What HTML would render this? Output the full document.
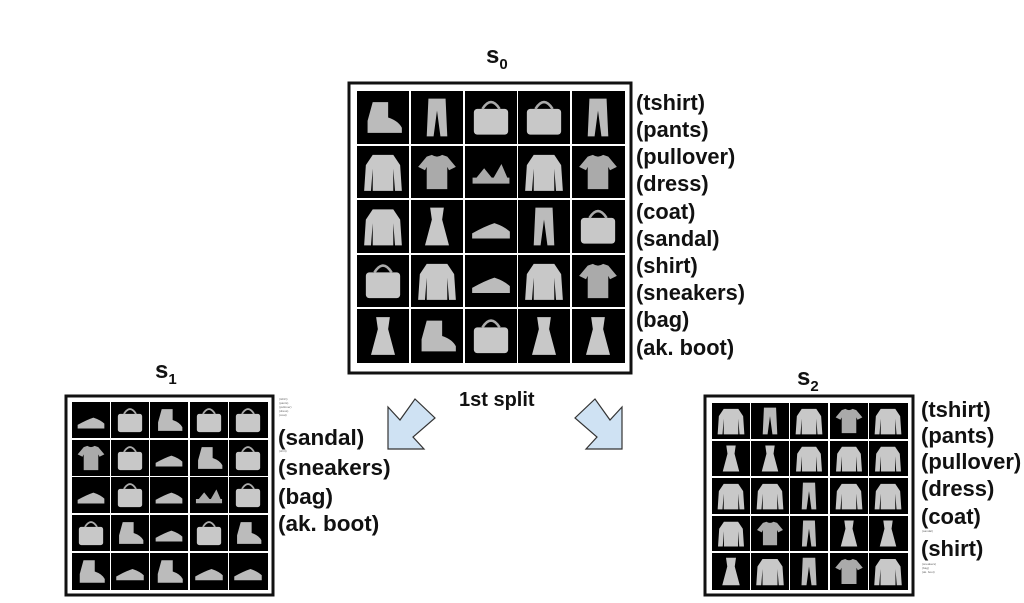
<!DOCTYPE html>
<html><head><meta charset="utf-8"><style>
html,body{margin:0;padding:0;background:#fff;width:1024px;height:603px;overflow:hidden}
</style></head><body>
<svg width="1024" height="603" viewBox="0 0 1024 603" xmlns="http://www.w3.org/2000/svg" style="display:block">
<defs>
<symbol id="shirt" viewBox="0 0 28 28"><path d="M8 5 L11 4 Q14 6 17 4 L20 5 L25 11 L21 13 L20 11 L20 24 L8 24 L8 11 L7 13 L3 11 Z" fill="#aaa"/></symbol>
<symbol id="coat" viewBox="0 0 28 28"><path d="M8 4 L20 4 L24 10 L25 25 L21 25 L20 12 L20 25 L8 25 L8 12 L7 25 L3 25 L4 10 Z" fill="#c8c8c8"/></symbol>
<symbol id="pants" viewBox="0 0 28 28"><path d="M9 3 L19 3 L20 25 L16 25 L14 10 L12 25 L8 25 Z" fill="#bbb"/></symbol>
<symbol id="dress" viewBox="0 0 28 28"><path d="M10 3 L18 3 L17 10 L21 25 L7 25 L11 10 Z" fill="#c8c8c8"/></symbol>
<symbol id="bag" viewBox="0 0 28 28"><rect x="4" y="9" width="20" height="15" rx="2" fill="#c8c8c8"/><path d="M9 9 Q14 1 19 9" stroke="#aaa" stroke-width="1.5" fill="none"/></symbol>
<symbol id="shoe" viewBox="0 0 28 28"><path d="M3 18 Q10 14 16 12 Q22 14 25 17 L25 21 L3 21 Z" fill="#bbb"/></symbol>
<symbol id="boot" viewBox="0 0 28 28"><path d="M8 5 L17 5 L17 14 Q23 16 25 20 L25 23 L5 23 L5 16 Z" fill="#bbb"/></symbol>
<symbol id="sandal" viewBox="0 0 28 28"><path d="M4 18 L24 18 L24 20 L4 20Z M6 18 L10 13 L14 18 M16 18 L20 11 L23 18" stroke="#aaa" stroke-width="1.5" fill="#aaa"/></symbol>
</defs>

<g font-family="Liberation Sans, sans-serif" font-weight="bold" fill="#111">
<text x="486" y="63" font-size="24">s<tspan font-size="15" dy="6">0</tspan></text>
<rect x="349" y="83" width="282" height="290" fill="#fff" stroke="#111" stroke-width="3"/>
<g font-size="21.8">
<text x="636" y="110">(tshirt)</text>
<text x="636" y="137">(pants)</text>
<text x="636" y="164">(pullover)</text>
<text x="636" y="191">(dress)</text>
<text x="636" y="219">(coat)</text>
<text x="636" y="246">(sandal)</text>
<text x="636" y="273">(shirt)</text>
<text x="636" y="300">(sneakers)</text>
<text x="636" y="327">(bag)</text>
<text x="636" y="355">(ak. boot)</text>
</g>
<text x="459" y="406" font-size="20">1st split</text>

<text x="155" y="378" font-size="24">s<tspan font-size="15" dy="6">1</tspan></text>
<rect x="66" y="396" width="207" height="199" fill="#fff" stroke="#111" stroke-width="3"/>
<g font-size="22.5">
<text x="278" y="445">(sandal)</text>
<text x="278" y="475">(sneakers)</text>
<text x="278" y="504">(bag)</text>
<text x="278" y="531">(ak. boot)</text>
</g>
<g font-size="3" font-weight="normal" fill="#666">
<text x="279" y="400">(tshirt)</text><text x="279" y="404">(pants)</text><text x="279" y="408">(pullover)</text><text x="279" y="412">(dress)</text><text x="279" y="416">(coat)</text><text x="279" y="452">(shirt)</text>
</g>

<text x="797" y="385" font-size="24">s<tspan font-size="15" dy="6">2</tspan></text>
<rect x="705" y="396" width="208" height="199" fill="#fff" stroke="#111" stroke-width="3"/>
<g font-size="22">
<text x="921" y="417">(tshirt)</text>
<text x="921" y="443">(pants)</text>
<text x="921" y="469">(pullover)</text>
<text x="921" y="496">(dress)</text>
<text x="921" y="524">(coat)</text>
<text x="921" y="556">(shirt)</text>
</g>
<g font-size="3" font-weight="normal" fill="#666">
<text x="922" y="532">(sandal)</text><text x="922" y="565">(sneakers)</text><text x="922" y="569">(bag)</text><text x="922" y="573">(ak. boot)</text>
</g>
</g>

<polygon points="388,407 400,420 415,399 435,418 413,437 424,449 388,449" fill="#cfe2f3" stroke="#333" stroke-width="1.2"/>
<polygon points="622,407 610,420 595,399 575,418 597,437 586,449 622,449" fill="#cfe2f3" stroke="#333" stroke-width="1.2"/>

<g>
<rect x="357" y="91" width="52" height="53" fill="#000"/><use href="#boot" x="359" y="93" width="48" height="49"/>
<rect x="411" y="91" width="52" height="53" fill="#000"/><use href="#pants" x="413" y="93" width="48" height="49"/>
<rect x="465" y="91" width="52" height="53" fill="#000"/><use href="#bag" x="467" y="93" width="48" height="49"/>
<rect x="518" y="91" width="52" height="53" fill="#000"/><use href="#bag" x="520" y="93" width="48" height="49"/>
<rect x="572" y="91" width="53" height="53" fill="#000"/><use href="#pants" x="574" y="93" width="48" height="49"/>

<rect x="357" y="146" width="52" height="52" fill="#000"/><use href="#coat" x="359" y="148" width="48" height="48"/>
<rect x="411" y="146" width="52" height="52" fill="#000"/><use href="#shirt" x="413" y="148" width="48" height="48"/>
<rect x="465" y="146" width="52" height="52" fill="#000"/><use href="#sandal" x="467" y="148" width="48" height="48"/>
<rect x="518" y="146" width="52" height="52" fill="#000"/><use href="#coat" x="520" y="148" width="48" height="48"/>
<rect x="572" y="146" width="53" height="52" fill="#000"/><use href="#shirt" x="574" y="148" width="48" height="48"/>

<rect x="357" y="200" width="52" height="53" fill="#000"/><use href="#coat" x="359" y="202" width="48" height="49"/>
<rect x="411" y="200" width="52" height="53" fill="#000"/><use href="#dress" x="413" y="202" width="48" height="49"/>
<rect x="465" y="200" width="52" height="53" fill="#000"/><use href="#shoe" x="467" y="202" width="48" height="49"/>
<rect x="518" y="200" width="52" height="53" fill="#000"/><use href="#pants" x="520" y="202" width="48" height="49"/>
<rect x="572" y="200" width="53" height="53" fill="#000"/><use href="#bag" x="574" y="202" width="48" height="49"/>

<rect x="357" y="255" width="52" height="52" fill="#000"/><use href="#bag" x="359" y="257" width="48" height="48"/>
<rect x="411" y="255" width="52" height="52" fill="#000"/><use href="#coat" x="413" y="257" width="48" height="48"/>
<rect x="465" y="255" width="52" height="52" fill="#000"/><use href="#shoe" x="467" y="257" width="48" height="48"/>
<rect x="518" y="255" width="52" height="52" fill="#000"/><use href="#coat" x="520" y="257" width="48" height="48"/>
<rect x="572" y="255" width="53" height="52" fill="#000"/><use href="#shirt" x="574" y="257" width="48" height="48"/>

<rect x="357" y="309" width="52" height="54" fill="#000"/><use href="#dress" x="359" y="311" width="48" height="50"/>
<rect x="411" y="309" width="52" height="54" fill="#000"/><use href="#boot" x="413" y="311" width="48" height="50"/>
<rect x="465" y="309" width="52" height="54" fill="#000"/><use href="#bag" x="467" y="311" width="48" height="50"/>
<rect x="518" y="309" width="52" height="54" fill="#000"/><use href="#dress" x="520" y="311" width="48" height="50"/>
<rect x="572" y="309" width="53" height="54" fill="#000"/><use href="#dress" x="574" y="311" width="48" height="50"/>
</g>

<g>
<rect x="72" y="402" width="38" height="36" fill="#000"/><use href="#shoe" x="73" y="403" width="36" height="34"/>
<rect x="111" y="402" width="38" height="36" fill="#000"/><use href="#bag" x="112" y="403" width="36" height="34"/>
<rect x="150" y="402" width="38" height="36" fill="#000"/><use href="#boot" x="151" y="403" width="36" height="34"/>
<rect x="190" y="402" width="38" height="36" fill="#000"/><use href="#bag" x="191" y="403" width="36" height="34"/>
<rect x="229" y="402" width="39" height="36" fill="#000"/><use href="#bag" x="230" y="403" width="36" height="34"/>

<rect x="72" y="440" width="38" height="36" fill="#000"/><use href="#shirt" x="73" y="441" width="36" height="34"/>
<rect x="111" y="440" width="38" height="36" fill="#000"/><use href="#bag" x="112" y="441" width="36" height="34"/>
<rect x="150" y="440" width="38" height="36" fill="#000"/><use href="#shoe" x="151" y="441" width="36" height="34"/>
<rect x="190" y="440" width="38" height="36" fill="#000"/><use href="#boot" x="191" y="441" width="36" height="34"/>
<rect x="229" y="440" width="39" height="36" fill="#000"/><use href="#bag" x="230" y="441" width="36" height="34"/>

<rect x="72" y="477" width="38" height="36" fill="#000"/><use href="#shoe" x="73" y="478" width="36" height="34"/>
<rect x="111" y="477" width="38" height="36" fill="#000"/><use href="#bag" x="112" y="478" width="36" height="34"/>
<rect x="150" y="477" width="38" height="36" fill="#000"/><use href="#shoe" x="151" y="478" width="36" height="34"/>
<rect x="190" y="477" width="38" height="36" fill="#000"/><use href="#sandal" x="191" y="478" width="36" height="34"/>
<rect x="229" y="477" width="39" height="36" fill="#000"/><use href="#bag" x="230" y="478" width="36" height="34"/>

<rect x="72" y="515" width="38" height="36" fill="#000"/><use href="#bag" x="73" y="516" width="36" height="34"/>
<rect x="111" y="515" width="38" height="36" fill="#000"/><use href="#boot" x="112" y="516" width="36" height="34"/>
<rect x="150" y="515" width="38" height="36" fill="#000"/><use href="#shoe" x="151" y="516" width="36" height="34"/>
<rect x="190" y="515" width="38" height="36" fill="#000"/><use href="#bag" x="191" y="516" width="36" height="34"/>
<rect x="229" y="515" width="39" height="36" fill="#000"/><use href="#boot" x="230" y="516" width="36" height="34"/>

<rect x="72" y="553" width="38" height="37" fill="#000"/><use href="#boot" x="73" y="554" width="36" height="35"/>
<rect x="111" y="553" width="38" height="37" fill="#000"/><use href="#shoe" x="112" y="554" width="36" height="35"/>
<rect x="150" y="553" width="38" height="37" fill="#000"/><use href="#boot" x="151" y="554" width="36" height="35"/>
<rect x="190" y="553" width="38" height="37" fill="#000"/><use href="#shoe" x="191" y="554" width="36" height="35"/>
<rect x="229" y="553" width="39" height="37" fill="#000"/><use href="#shoe" x="230" y="554" width="36" height="35"/>
</g>

<g>
<rect x="712" y="403" width="38" height="36" fill="#000"/><use href="#coat" x="713" y="404" width="36" height="34"/>
<rect x="751" y="403" width="38" height="36" fill="#000"/><use href="#pants" x="752" y="404" width="36" height="34"/>
<rect x="790" y="403" width="38" height="36" fill="#000"/><use href="#coat" x="791" y="404" width="36" height="34"/>
<rect x="830" y="403" width="38" height="36" fill="#000"/><use href="#shirt" x="831" y="404" width="36" height="34"/>
<rect x="869" y="403" width="39" height="36" fill="#000"/><use href="#coat" x="870" y="404" width="36" height="34"/>

<rect x="712" y="441" width="38" height="35" fill="#000"/><use href="#dress" x="713" y="442" width="36" height="33"/>
<rect x="751" y="441" width="38" height="35" fill="#000"/><use href="#dress" x="752" y="442" width="36" height="33"/>
<rect x="790" y="441" width="38" height="35" fill="#000"/><use href="#coat" x="791" y="442" width="36" height="33"/>
<rect x="830" y="441" width="38" height="35" fill="#000"/><use href="#coat" x="831" y="442" width="36" height="33"/>
<rect x="869" y="441" width="39" height="35" fill="#000"/><use href="#coat" x="870" y="442" width="36" height="33"/>

<rect x="712" y="478" width="38" height="36" fill="#000"/><use href="#coat" x="713" y="479" width="36" height="34"/>
<rect x="751" y="478" width="38" height="36" fill="#000"/><use href="#coat" x="752" y="479" width="36" height="34"/>
<rect x="790" y="478" width="38" height="36" fill="#000"/><use href="#pants" x="791" y="479" width="36" height="34"/>
<rect x="830" y="478" width="38" height="36" fill="#000"/><use href="#coat" x="831" y="479" width="36" height="34"/>
<rect x="869" y="478" width="39" height="36" fill="#000"/><use href="#coat" x="870" y="479" width="36" height="34"/>

<rect x="712" y="516" width="38" height="35" fill="#000"/><use href="#coat" x="713" y="517" width="36" height="33"/>
<rect x="751" y="516" width="38" height="35" fill="#000"/><use href="#shirt" x="752" y="517" width="36" height="33"/>
<rect x="790" y="516" width="38" height="35" fill="#000"/><use href="#pants" x="791" y="517" width="36" height="33"/>
<rect x="830" y="516" width="38" height="35" fill="#000"/><use href="#dress" x="831" y="517" width="36" height="33"/>
<rect x="869" y="516" width="39" height="35" fill="#000"/><use href="#dress" x="870" y="517" width="36" height="33"/>

<rect x="712" y="553" width="38" height="37" fill="#000"/><use href="#dress" x="713" y="554" width="36" height="35"/>
<rect x="751" y="553" width="38" height="37" fill="#000"/><use href="#coat" x="752" y="554" width="36" height="35"/>
<rect x="790" y="553" width="38" height="37" fill="#000"/><use href="#pants" x="791" y="554" width="36" height="35"/>
<rect x="830" y="553" width="38" height="37" fill="#000"/><use href="#shirt" x="831" y="554" width="36" height="35"/>
<rect x="869" y="553" width="39" height="37" fill="#000"/><use href="#coat" x="870" y="554" width="36" height="35"/>
</g>
</svg>
</body></html>
